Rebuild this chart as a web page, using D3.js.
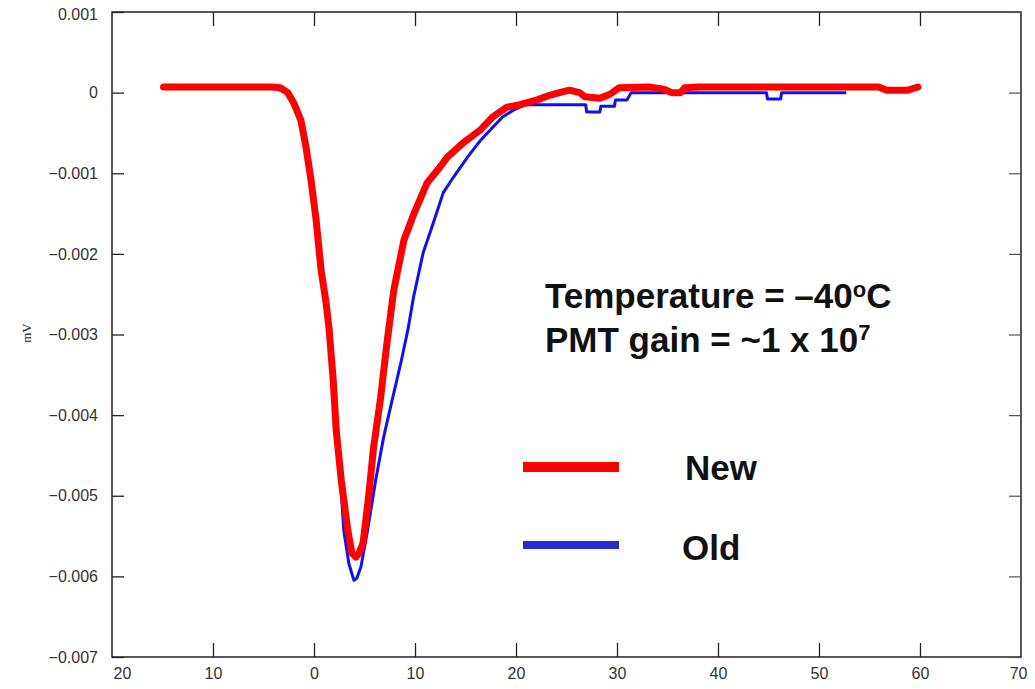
<!DOCTYPE html>
<html>
<head>
<meta charset="utf-8">
<script src="https://cdn.jsdelivr.net/npm/d3@7"></script>
<style>
  html, body { margin: 0; padding: 0; background: #fff; }
  svg { display: block; }
</style>
</head>
<body>
<svg id="chart" width="1035" height="689"></svg>
<script>
// ---------- data ----------
const xTicks = [-20, -10, 0, 10, 20, 30, 40, 50, 60, 70];
const xTickLabels = ["20", "10", "0", "10", "20", "30", "40", "50", "60", "70"];
const yTicks = [0.001, 0, -0.001, -0.002, -0.003, -0.004, -0.005, -0.006, -0.007];
const yTickLabels = ["0.001", "0", "\u22120.001", "\u22120.002", "\u22120.003", "\u22120.004", "\u22120.005", "\u22120.006", "\u22120.007"];

const newX = [-14.9, -4.2, -3.3, -2.6, -2.0, -1.3, -0.8, -0.3, 0.2, 0.7, 1.2, 1.5, 1.9, 2.2, 2.7, 3.35, 3.75, 4.15, 4.45, 4.85, 5.4, 5.9, 6.6, 7.2, 7.9, 8.9, 9.9, 11.2, 12.5, 13.2, 14.8, 16.5, 17.7, 19.1, 20.4, 22.1, 23.4, 24.3, 25.3, 26.3, 26.8, 28.3, 29.3, 30.2, 33.2, 34.7, 35.4, 36.3, 36.7, 38.1, 55.9, 56.7, 58.8, 59.8];
const newY = [0.00007, 0.00007, 0.00006, 0.0, -0.00013, -0.00034, -0.00067, -0.00108, -0.00157, -0.00220, -0.00261, -0.00294, -0.00356, -0.00419, -0.00481, -0.00543, -0.00571, -0.00576, -0.00571, -0.00559, -0.00502, -0.00440, -0.00378, -0.00313, -0.00245, -0.00183, -0.00150, -0.00112, -0.00092, -0.00080, -0.00062, -0.00046, -0.00030, -0.00018, -0.00015, -0.00009, -0.00003, 0.0, 0.00003, 0.0, -0.00005, -0.00007, -0.00002, 0.00006, 0.00007, 0.00004, 0.0, 0.0, 0.00006, 0.00007, 0.00007, 0.00003, 0.00003, 0.00007];

const oldX = [-14.9, -3.7, -2.8, -2.0, -1.3, -0.8, -0.3, 0.2, 0.7, 1.2, 1.5, 1.9, 2.2, 2.65, 2.95, 3.45, 3.95, 4.25, 4.65, 5.3, 6.1, 6.9, 7.8, 8.6, 9.3, 9.85, 10.8, 11.8, 12.8, 13.8, 15.2, 16.5, 17.7, 18.7, 19.7, 20.9, 26.9, 27.0, 28.3, 28.4, 29.75, 29.85, 31.0, 31.4, 44.8, 44.9, 46.2, 46.3, 52.7];
const oldY = [0.00005, 0.00005, 0.0, -0.00013, -0.00034, -0.00067, -0.00108, -0.00157, -0.00220, -0.00261, -0.00294, -0.00356, -0.00419, -0.00487, -0.00543, -0.00584, -0.00605, -0.00602, -0.00588, -0.00543, -0.00481, -0.00427, -0.00378, -0.00335, -0.00294, -0.00254, -0.00199, -0.00162, -0.00124, -0.00105, -0.00080, -0.00059, -0.00043, -0.00030, -0.00022, -0.00015, -0.00015, -0.00024, -0.00024, -0.00017, -0.00017, -0.00009, -0.00009, 0.0, 0.0, -0.00008, -0.00008, 0.0, 0.0];

const seriesNames = ["New", "Old"];
const seriesColors = ["#ff0000", "#2a2ad0"];
const yAxisTitle = "mV";

// ---------- layout ----------
const svg = d3.select("#chart");
const L = 112, R = 1021, T = 12, B = 657;

const x = d3.scaleLinear().domain([-20, 70]).range([L, R]);
const y = d3.scaleLinear().domain([0.001, -0.007]).range([T, B]);

const tickFont = "'Liberation Sans', Arial, sans-serif";

// frame
svg.append("rect")
  .attr("x", L).attr("y", T).attr("width", R - L).attr("height", B - T)
  .attr("fill", "none").attr("stroke", "#222").attr("stroke-width", 1.5);

// left axis (ticks inward)
const yAxisL = svg.append("g").attr("transform", `translate(${L},0)`)
  .call(d3.axisLeft(y).tickValues(yTicks).tickSizeInner(-12).tickSizeOuter(0)
    .tickFormat((d, i) => yTickLabels[i]).tickPadding(14));
yAxisL.select(".domain").remove();
yAxisL.selectAll("line").attr("stroke", "#222").attr("stroke-width", 1.3);
yAxisL.selectAll("text").attr("font-family", tickFont).attr("font-size", 16).attr("fill", "#333");
yAxisL.selectAll(".tick").filter(d => d === 0.001).select("text").attr("dy", "0.45em");

// right axis ticks
const yAxisR = svg.append("g").attr("transform", `translate(${R},0)`)
  .call(d3.axisRight(y).tickValues(yTicks).tickSizeInner(-12).tickSizeOuter(0).tickFormat(""));
yAxisR.select(".domain").remove();
yAxisR.selectAll("line").attr("stroke", "#555").attr("stroke-width", 1.2);

// bottom axis
const xAxisB = svg.append("g").attr("transform", `translate(0,${B})`)
  .call(d3.axisBottom(x).tickValues(xTicks).tickSizeInner(-14).tickSizeOuter(0)
    .tickFormat((d, i) => xTickLabels[i]).tickPadding(22));
xAxisB.select(".domain").remove();
xAxisB.selectAll("line").attr("stroke", "#222").attr("stroke-width", 1.3);
xAxisB.selectAll("text").attr("font-family", tickFont).attr("font-size", 16).attr("fill", "#333")
  .attr("y", 11);
xAxisB.selectAll(".tick").filter(d => d === -20).select("text").attr("text-anchor", "start").attr("x", 1);
xAxisB.selectAll(".tick").filter(d => d === 70).select("text").attr("text-anchor", "end").attr("x", 6);
xAxisB.selectAll(".tick").filter(d => d === -20 || d === 70).select("line").remove();

// top axis ticks
const xAxisT = svg.append("g").attr("transform", `translate(0,${T})`)
  .call(d3.axisTop(x).tickValues(xTicks.slice(1, -1)).tickSizeInner(-14).tickSizeOuter(0).tickFormat(""));
xAxisT.select(".domain").remove();
xAxisT.selectAll("line").attr("stroke", "#222").attr("stroke-width", 1.3);

// y axis title
svg.append("text")
  .attr("transform", "translate(31,333) rotate(-90)")
  .attr("text-anchor", "middle")
  .attr("font-family", "'Liberation Serif', 'Times New Roman', serif")
  .attr("font-size", 13)
  .attr("fill", "#222")
  .text(yAxisTitle);

// ---------- series ----------
const line = d3.line().x(d => x(d[0])).y(d => y(d[1])).curve(d3.curveLinear);
const oldData = oldX.map((v, i) => [v, oldY[i]]);
const newData = newX.map((v, i) => [v, newY[i]]);

svg.append("path").datum(oldData).attr("d", line)
  .attr("fill", "none").attr("stroke", "#1010f0").attr("stroke-width", 3)
  .attr("stroke-linejoin", "round");
svg.append("path").datum(newData).attr("d", line)
  .attr("fill", "none").attr("stroke", seriesColors[0]).attr("stroke-width", 7)
  .attr("stroke-linejoin", "round").attr("stroke-linecap", "round");

// ---------- annotation ----------
const annFont = "'Liberation Sans', Arial, sans-serif";
const t1 = svg.append("text").attr("x", 545).attr("y", 308)
  .attr("font-family", annFont).attr("font-weight", "bold").attr("font-size", 35).attr("fill", "#111");
t1.append("tspan").text("Temperature = \u201340");
t1.append("tspan").attr("font-size", 22).attr("dy", -11).text("o");
t1.append("tspan").attr("dy", 11).text("C");

const t2 = svg.append("text").attr("x", 545).attr("y", 352)
  .attr("font-family", annFont).attr("font-weight", "bold").attr("font-size", 35).attr("fill", "#111");
t2.append("tspan").text("PMT gain = ~1 x 10");
t2.append("tspan").attr("font-size", 22).attr("dy", -12).text("7");

// ---------- legend ----------
const legY = [467, 545];
const legW = [10, 8];
const legTextX = [685, 682];
const legTextY = [480, 560];
seriesNames.forEach((name, i) => {
  svg.append("line").attr("x1", 523).attr("x2", 619).attr("y1", legY[i]).attr("y2", legY[i])
    .attr("stroke", seriesColors[i]).attr("stroke-width", legW[i]);
  svg.append("text").attr("x", legTextX[i]).attr("y", legTextY[i])
    .attr("font-family", annFont).attr("font-weight", "bold").attr("font-size", 35).attr("fill", "#111")
    .text(name);
});
</script>
</body>
</html>
